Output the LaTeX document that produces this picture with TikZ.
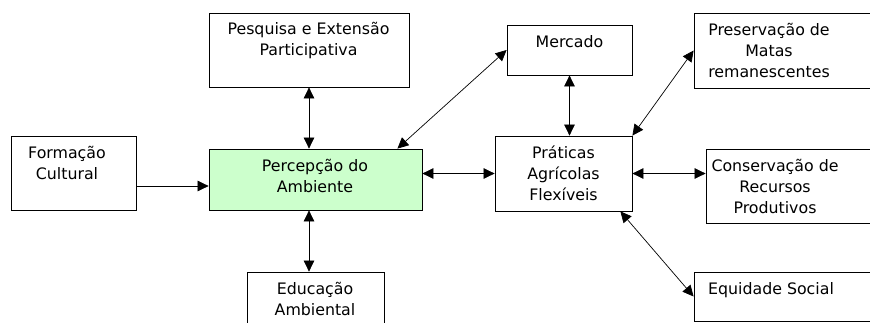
\documentclass[tikz,border=0pt]{standalone}
\usepackage{fontspec}
\setmainfont{DejaVu Sans}
\usetikzlibrary{arrows.meta,calc}
\definecolor{percfill}{HTML}{CCFFCC}
\begin{document}
\begin{tikzpicture}[x=1pt,y=-1pt,
  box/.style={draw=black,line width=0.8pt,inner sep=0pt,minimum width=#1},
  lbl/.style={inner sep=0pt,align=center,font=\fontsize{15.8}{21}\selectfont},
  arr/.style={line width=0.7pt,-{Triangle[length=11pt,width=10.5pt]}},
  biarr/.style={line width=0.7pt,{Triangle[length=11pt,width=10.5pt]}-{Triangle[length=11pt,width=10.5pt]}}]
\useasboundingbox (0,0) rectangle (870,322);
\clip (0,0) rectangle (870,322);
% boxes
\node[box=200pt,minimum height=74pt] (pesq) at (309,50) {};
\node[box=125pt,minimum height=74pt] (form) at (73.5,173) {};
\node[box=213pt,minimum height=61pt,fill=percfill] (perc) at (315.5,179.5) {};
\node[box=137pt,minimum height=73pt] (educ) at (315.5,308.5) {};
\node[box=125pt,minimum height=50pt] (merc) at (569.5,50) {};
\node[box=137pt,minimum height=75pt] (prat) at (563.5,173.5) {};
\node[box=206pt,minimum height=75pt] (pres) at (797,50.5) {};
\node[box=194pt,minimum height=74pt] (cons) at (803,186) {};
\node[box=206pt,minimum height=49pt] (equi) at (797,296.5) {};
% texts
\node[lbl] (tpesq) at (308.5,40.8) {Pesquisa e Extensão\strut\\Participativa\strut};
\node[lbl] (tform) at (67,164.8) {Formação\strut\\Cultural\strut};
\node[lbl] (tperc) at (315,177.8) {Percepção do\strut\\Ambiente\strut};
\node[lbl] (teduc) at (315,300.8) {Educação\strut\\Ambiental\strut};
\node[lbl] (tmerc) at (569.5,43.3) {Mercado\strut};
\node[lbl] (tprat) at (563.5,175.3) {Práticas\strut\\Agrícolas\strut\\Flexíveis\strut};
\node[lbl] (tpres) at (769,51.8) {Preservação de\strut\\Matas\strut\\remanescentes\strut};
\node[lbl] (tcons) at (775,188.3) {Conservação de\strut\\Recursos\strut\\Produtivos\strut};
\node[lbl] (tequi) at (771,290.3) {Equidade Social\strut};
% connectors
\draw[biarr] (pesq.south) -- (pesq.south |- perc.north);
\draw[biarr] (perc.south -| pesq.south) -- (educ.north -| pesq.south);
\draw[arr] ([yshift=-13pt]form.east) -- ([yshift=-13pt]form.east -| perc.west);
\draw[biarr] (prat.west -| perc.east) -- (prat.west);
\draw[biarr] (prat.east) -- (prat.east -| cons.west);
\draw[biarr] (merc.south) -- (merc.south |- prat.north);
\draw[biarr] ([xshift=-25pt]perc.north east) -- (merc.west);
\draw[biarr] (prat.north east) -- (pres.west);
\draw[biarr] ([xshift=-12pt]prat.south east) -- (equi.west);
\end{tikzpicture}
\end{document}
